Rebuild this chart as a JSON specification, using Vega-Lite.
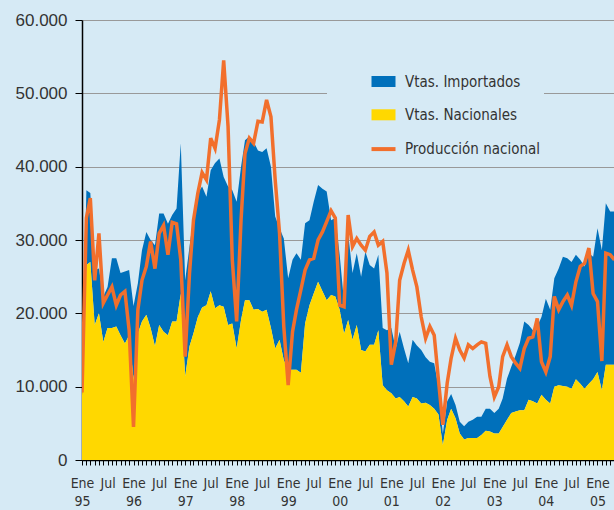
{
  "$schema": "https://vega.github.io/schema/vega-lite/v6.json",
  "width": 532,
  "height": 440,
  "autosize": "none",
  "padding": {"left": 82, "top": 20, "right": 0, "bottom": 50},
  "background": "#d6eaf5",
  "config": {"view": {"stroke": null}, "font": "DejaVu Sans Condensed, Liberation Sans, sans-serif"},
  "data": {"values": [
    {"fecha":"1995-01-01","imp":1000,"nac":8800,"prod":9200},
    {"fecha":"1995-02-01","imp":10200,"nac":26600,"prod":33000},
    {"fecha":"1995-03-01","imp":9400,"nac":27000,"prod":35700},
    {"fecha":"1995-04-01","imp":7500,"nac":18400,"prod":24500},
    {"fecha":"1995-05-01","imp":6100,"nac":20000,"prod":30900},
    {"fecha":"1995-06-01","imp":6200,"nac":16100,"prod":21400},
    {"fecha":"1995-07-01","imp":5600,"nac":18000,"prod":22500},
    {"fecha":"1995-08-01","imp":9500,"nac":18000,"prod":23600},
    {"fecha":"1995-09-01","imp":9300,"nac":18200,"prod":21100},
    {"fecha":"1995-10-01","imp":8500,"nac":17000,"prod":22500},
    {"fecha":"1995-11-01","imp":9800,"nac":15900,"prod":23000},
    {"fecha":"1995-12-01","imp":8900,"nac":17000,"prod":17700},
    {"fecha":"1996-01-01","imp":10000,"nac":11000,"prod":4500},
    {"fecha":"1996-02-01","imp":6800,"nac":17300,"prod":20500},
    {"fecha":"1996-03-01","imp":9700,"nac":18900,"prod":24500},
    {"fecha":"1996-04-01","imp":11300,"nac":19800,"prod":26400},
    {"fecha":"1996-05-01","imp":12000,"nac":18000,"prod":29800},
    {"fecha":"1996-06-01","imp":13800,"nac":15500,"prod":26100},
    {"fecha":"1996-07-01","imp":15200,"nac":18400,"prod":30900},
    {"fecha":"1996-08-01","imp":16100,"nac":17500,"prod":32000},
    {"fecha":"1996-09-01","imp":15200,"nac":17000,"prod":28000},
    {"fecha":"1996-10-01","imp":14500,"nac":18900,"prod":32400},
    {"fecha":"1996-11-01","imp":15400,"nac":18900,"prod":32200},
    {"fecha":"1996-12-01","imp":20500,"nac":22700,"prod":27300},
    {"fecha":"1997-01-01","imp":13100,"nac":11400,"prod":14100},
    {"fecha":"1997-02-01","imp":13600,"nac":15500,"prod":25500},
    {"fecha":"1997-03-01","imp":15900,"nac":17300,"prod":32700},
    {"fecha":"1997-04-01","imp":16900,"nac":19500,"prod":36400},
    {"fecha":"1997-05-01","imp":16500,"nac":20800,"prod":39200},
    {"fecha":"1997-06-01","imp":14800,"nac":21100,"prod":38200},
    {"fecha":"1997-07-01","imp":16500,"nac":23000,"prod":43900},
    {"fecha":"1997-08-01","imp":19800,"nac":20700,"prod":42500},
    {"fecha":"1997-09-01","imp":20000,"nac":21100,"prod":46400},
    {"fecha":"1997-10-01","imp":17700,"nac":20900,"prod":54500},
    {"fecha":"1997-11-01","imp":18900,"nac":18400,"prod":45500},
    {"fecha":"1997-12-01","imp":18200,"nac":18600,"prod":27300},
    {"fecha":"1998-01-01","imp":20000,"nac":15200,"prod":18900},
    {"fecha":"1998-02-01","imp":20900,"nac":19100,"prod":32700},
    {"fecha":"1998-03-01","imp":21800,"nac":21800,"prod":41800},
    {"fecha":"1998-04-01","imp":22300,"nac":21800,"prod":43900},
    {"fecha":"1998-05-01","imp":22900,"nac":20500,"prod":43200},
    {"fecha":"1998-06-01","imp":21600,"nac":20600,"prod":46200},
    {"fecha":"1998-07-01","imp":21800,"nac":20200,"prod":46100},
    {"fecha":"1998-08-01","imp":22000,"nac":20500,"prod":49100},
    {"fecha":"1998-09-01","imp":22000,"nac":18000,"prod":46800},
    {"fecha":"1998-10-01","imp":18000,"nac":15200,"prod":38200},
    {"fecha":"1998-11-01","imp":15200,"nac":16400,"prod":30900},
    {"fecha":"1998-12-01","imp":16600,"nac":13600,"prod":18200},
    {"fecha":"1999-01-01","imp":12500,"nac":12300,"prod":10200},
    {"fecha":"1999-02-01","imp":15000,"nac":12300,"prod":17500},
    {"fecha":"1999-03-01","imp":15900,"nac":12300,"prod":20500},
    {"fecha":"1999-04-01","imp":15400,"nac":11900,"prod":23200},
    {"fecha":"1999-05-01","imp":13700,"nac":18600,"prod":25900},
    {"fecha":"1999-06-01","imp":11600,"nac":21100,"prod":27300},
    {"fecha":"1999-07-01","imp":12500,"nac":22700,"prod":27500},
    {"fecha":"1999-08-01","imp":13200,"nac":24300,"prod":30000},
    {"fecha":"1999-09-01","imp":14000,"nac":23000,"prod":31100},
    {"fecha":"1999-10-01","imp":14800,"nac":21800,"prod":32500},
    {"fecha":"1999-11-01","imp":10200,"nac":22500,"prod":34000},
    {"fecha":"1999-12-01","imp":10700,"nac":22300,"prod":33000},
    {"fecha":"2000-01-01","imp":7500,"nac":20500,"prod":21100},
    {"fecha":"2000-02-01","imp":4300,"nac":17200,"prod":20900},
    {"fecha":"2000-03-01","imp":11800,"nac":19100,"prod":33400},
    {"fecha":"2000-04-01","imp":9100,"nac":16400,"prod":29100},
    {"fecha":"2000-05-01","imp":9800,"nac":18400,"prod":30200},
    {"fecha":"2000-06-01","imp":10000,"nac":15000,"prod":29300},
    {"fecha":"2000-07-01","imp":13600,"nac":14800,"prod":28600},
    {"fecha":"2000-08-01","imp":10900,"nac":15700,"prod":30500},
    {"fecha":"2000-09-01","imp":10400,"nac":15700,"prod":31100},
    {"fecha":"2000-10-01","imp":10300,"nac":17700,"prod":29300},
    {"fecha":"2000-11-01","imp":7800,"nac":10200,"prod":29800},
    {"fecha":"2000-12-01","imp":8200,"nac":9500,"prod":25500},
    {"fecha":"2001-01-01","imp":8900,"nac":9100,"prod":13000},
    {"fecha":"2001-02-01","imp":6800,"nac":8400,"prod":16100},
    {"fecha":"2001-03-01","imp":8900,"nac":8600,"prod":24500},
    {"fecha":"2001-04-01","imp":7200,"nac":8000,"prod":26800},
    {"fecha":"2001-05-01","imp":5900,"nac":7300,"prod":28600},
    {"fecha":"2001-06-01","imp":7800,"nac":8600,"prod":25900},
    {"fecha":"2001-07-01","imp":7200,"nac":8400,"prod":23600},
    {"fecha":"2001-08-01","imp":7300,"nac":7700,"prod":19500},
    {"fecha":"2001-09-01","imp":6200,"nac":7800,"prod":16600},
    {"fecha":"2001-10-01","imp":5900,"nac":7500,"prod":18200},
    {"fecha":"2001-11-01","imp":6200,"nac":7000,"prod":17000},
    {"fecha":"2001-12-01","imp":3800,"nac":6200,"prod":10900},
    {"fecha":"2002-01-01","imp":1600,"nac":2000,"prod":4800},
    {"fecha":"2002-02-01","imp":2500,"nac":5500,"prod":10500},
    {"fecha":"2002-03-01","imp":2000,"nac":7000,"prod":13900},
    {"fecha":"2002-04-01","imp":1800,"nac":5700,"prod":16600},
    {"fecha":"2002-05-01","imp":1600,"nac":3600,"prod":15000},
    {"fecha":"2002-06-01","imp":1800,"nac":2800,"prod":13900},
    {"fecha":"2002-07-01","imp":2200,"nac":3000,"prod":15700},
    {"fecha":"2002-08-01","imp":2500,"nac":3000,"prod":15200},
    {"fecha":"2002-09-01","imp":2900,"nac":3000,"prod":15700},
    {"fecha":"2002-10-01","imp":2500,"nac":3400,"prod":16100},
    {"fecha":"2002-11-01","imp":3000,"nac":4000,"prod":15900},
    {"fecha":"2002-12-01","imp":3100,"nac":3900,"prod":11400},
    {"fecha":"2003-01-01","imp":2800,"nac":3600,"prod":8600},
    {"fecha":"2003-02-01","imp":3400,"nac":3600,"prod":10000},
    {"fecha":"2003-03-01","imp":3900,"nac":4500,"prod":14100},
    {"fecha":"2003-04-01","imp":5600,"nac":5500,"prod":15700},
    {"fecha":"2003-05-01","imp":6300,"nac":6400,"prod":14100},
    {"fecha":"2003-06-01","imp":7700,"nac":6600,"prod":13200},
    {"fecha":"2003-07-01","imp":9200,"nac":6800,"prod":12500},
    {"fecha":"2003-08-01","imp":12100,"nac":6800,"prod":15200},
    {"fecha":"2003-09-01","imp":10200,"nac":8200,"prod":16600},
    {"fecha":"2003-10-01","imp":9700,"nac":8000,"prod":16800},
    {"fecha":"2003-11-01","imp":10500,"nac":7700,"prod":19300},
    {"fecha":"2003-12-01","imp":10600,"nac":8900,"prod":13400},
    {"fecha":"2004-01-01","imp":13800,"nac":8200,"prod":12000},
    {"fecha":"2004-02-01","imp":12800,"nac":7700,"prod":14100},
    {"fecha":"2004-03-01","imp":14800,"nac":10000,"prod":22300},
    {"fecha":"2004-04-01","imp":15900,"nac":10200,"prod":20500},
    {"fecha":"2004-05-01","imp":17600,"nac":10100,"prod":21600},
    {"fecha":"2004-06-01","imp":17500,"nac":10000,"prod":22500},
    {"fecha":"2004-07-01","imp":17300,"nac":9700,"prod":21100},
    {"fecha":"2004-08-01","imp":17000,"nac":11000,"prod":24300},
    {"fecha":"2004-09-01","imp":16900,"nac":10400,"prod":26400},
    {"fecha":"2004-10-01","imp":16700,"nac":9700,"prod":26800},
    {"fecha":"2004-11-01","imp":17800,"nac":10400,"prod":28900},
    {"fecha":"2004-12-01","imp":16700,"nac":11000,"prod":22700},
    {"fecha":"2005-01-01","imp":19600,"nac":12000,"prod":21600},
    {"fecha":"2005-02-01","imp":19100,"nac":9500,"prod":13500},
    {"fecha":"2005-03-01","imp":22000,"nac":13000,"prod":28200},
    {"fecha":"2005-04-01","imp":20900,"nac":13000,"prod":28000},
    {"fecha":"2005-05-01","imp":20900,"nac":13000,"prod":27300}
  ]},
  "layer": [
    {
      "transform": [{"fold": ["imp", "nac"], "as": ["serie", "valor"]}],
      "mark": {"type": "area", "clip": true},
      "encoding": {
        "x": {
          "field": "fecha", "type": "temporal",
          "scale": {"type": "utc", "domain": [{"year": 1995, "month": 1, "date": 1, "utc": true}, {"year": 2005, "month": 4, "date": 28, "utc": true}]},
          "axis": {
            "title": null, "grid": false,
            "tickCount": {"interval": "month", "step": 1},
            "labelExpr": "utcmonth(datum.value) === 0 ? ['Ene', utcFormat(datum.value, '%y')] : (utcmonth(datum.value) === 6 ? 'Jul' : '')",
            "labelOverlap": false, "labelFlush": false,
            "labelFontSize": 14, "labelColor": "#333333", "labelLineHeight": 18,
            "labelPadding": 11, "tickSize": 5, "tickColor": "#000000", "tickWidth": 1,
            "domainColor": "#000000", "domainWidth": 1.5
          }
        },
        "y": {
          "field": "valor", "type": "quantitative", "stack": "zero",
          "scale": {"domain": [0, 60000]},
          "axis": {
            "title": null,
            "values": [0, 10000, 20000, 30000, 40000, 50000, 60000],
            "labelExpr": "replace(format(datum.value, ',d'), ',', '.')",
            "labelFont": "Liberation Sans", "labelFontSize": 17, "labelColor": "#333333",
            "grid": true, "gridColor": "#999999", "gridWidth": 1.2,
            "tickSize": 7, "tickColor": "#000000", "labelPadding": 8,
            "domainColor": "#000000", "domainWidth": 1.5
          }
        },
        "color": {
          "field": "serie", "type": "nominal",
          "scale": {"domain": ["imp", "nac", "Producción nacional"], "range": ["#0070bb", "#ffd800", "#f26f2c"]},
          "legend": {
            "orient": "none", "legendX": 245, "legendY": 50, "title": null,
            "fillColor": "#d6eaf5", "padding": 4, "symbolOffset": 45,
            "labelOffset": 14, "labelFontSize": 15, "labelColor": "#333333",
            "rowPadding": 17.3, "symbolSize": 576,
            "labelExpr": "datum.label === 'imp' ? 'Vtas. Importados' : (datum.label === 'nac' ? 'Vtas. Nacionales' : datum.label)",
            "encode": {
              "symbols": {
                "update": {
                  "shape": {"signal": "datum.value === 'Producción nacional' ? 'M-1,0H1' : 'M-1,-0.46H1V0.46H-1Z'"},
                  "fill": {"signal": "datum.value === 'Producción nacional' ? 'transparent' : scale('color', datum.value)"},
                  "stroke": {"signal": "datum.value === 'Producción nacional' ? scale('color', datum.value) : 'transparent'"},
                  "strokeWidth": {"signal": "datum.value === 'Producción nacional' ? 4 : 0"},
                  "opacity": {"value": 1}
                }
              }
            }
          }
        },
        "order": {"field": "serie", "sort": "descending"}
      }
    },
    {
      "mark": {"type": "line", "clip": true, "strokeWidth": 3.5},
      "encoding": {
        "x": {"field": "fecha", "type": "temporal"},
        "y": {"field": "prod", "type": "quantitative"},
        "color": {"datum": "Producción nacional"}
      }
    }
  ]
}
